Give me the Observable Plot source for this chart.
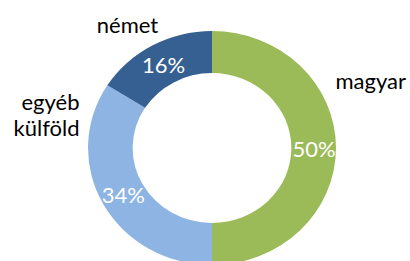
<!DOCTYPE html>
<html>
<head>
<meta charset="utf-8">
<script src="https://cdn.jsdelivr.net/npm/d3@7"></script>
<script src="https://cdn.jsdelivr.net/npm/@observablehq/plot@0.6"></script>
<style>
  html, body { margin: 0; padding: 0; background: #fff; }
  #chart svg { display: block; }
</style>
</head>
<body>
<div id="chart"></div>
<script>
// ---- data ----
const categories = ["magyar", "egyéb külföld", "német"];
const shares = [50, 34, 16];
const colors = ["#9BBB59", "#8EB4E3", "#366092"];

// ---- layout (not data) ----
const W = 410, H = 261;
const CX = 212, CY = 148, RX = 124, RY = 117;
const INNER = 0.64;
const MID = (1 + INNER) / 2;
// outside category label anchors, in px
const catLabelLayout = [
  {px: 335, py: 80, anchor: "start"},
  {px: 79, py: 114, anchor: "end"},
  {px: 127, py: 24, anchor: "middle"}
];

const color = Plot.scale({color: {domain: categories, range: colors}});
const pie = d3.pie().sort(null).value(d => d.value)(
  categories.map((c, i) => ({category: c, value: shares[i]}))
);

const pctLabels = pie.map(p => {
  const m = (p.startAngle + p.endAngle) / 2;
  return {x: MID * Math.sin(m), y: MID * Math.cos(m), label: p.data.value + "%"};
});

const xDom = [-CX / RX, (W - CX) / RX];
const yDom = [-(H - CY) / RY, CY / RY];

const toX = d3.scaleLinear().domain(xDom).range([0, W]);
const toY = d3.scaleLinear().domain(yDom).range([H, 0]);
const catLabels = categories.map((c, i) => ({
  x: toX.invert(catLabelLayout[i].px),
  y: toY.invert(catLabelLayout[i].py),
  label: c.replace(" ", "\n"),
  anchor: catLabelLayout[i].anchor
}));

function donut(index, scales) {
  const {x, y} = scales;
  const g = d3.create("svg:g")
    .attr("transform", `translate(${x(0)},${y(0)}) scale(${x(1) - x(0)},${y(0) - y(1)})`);
  const arc = d3.arc().innerRadius(INNER).outerRadius(1);
  g.selectAll("path").data(pie).join("path")
    .attr("d", arc)
    .attr("fill", d => color.apply(d.data.category));
  return g.node();
}

const textCommon = {fontSize: 22, lineAnchor: "middle", lineHeight: 1.18};

const chart = Plot.plot({
  width: W,
  height: H,
  margin: 0,
  x: {domain: xDom, axis: null},
  y: {domain: yDom, axis: null},
  style: {fontFamily: "Lato, sans-serif", background: "#fff"},
  marks: [
    donut,
    Plot.text(pctLabels, {x: "x", y: "y", text: "label", fill: "#fff", ...textCommon}),
    ...["start", "end", "middle"].map(a =>
      Plot.text(catLabels.filter(d => d.anchor === a), {
        x: "x", y: "y", text: "label", fill: "#000", textAnchor: a, ...textCommon
      })
    )
  ]
});
document.getElementById("chart").appendChild(chart);
</script>
</body>
</html>
